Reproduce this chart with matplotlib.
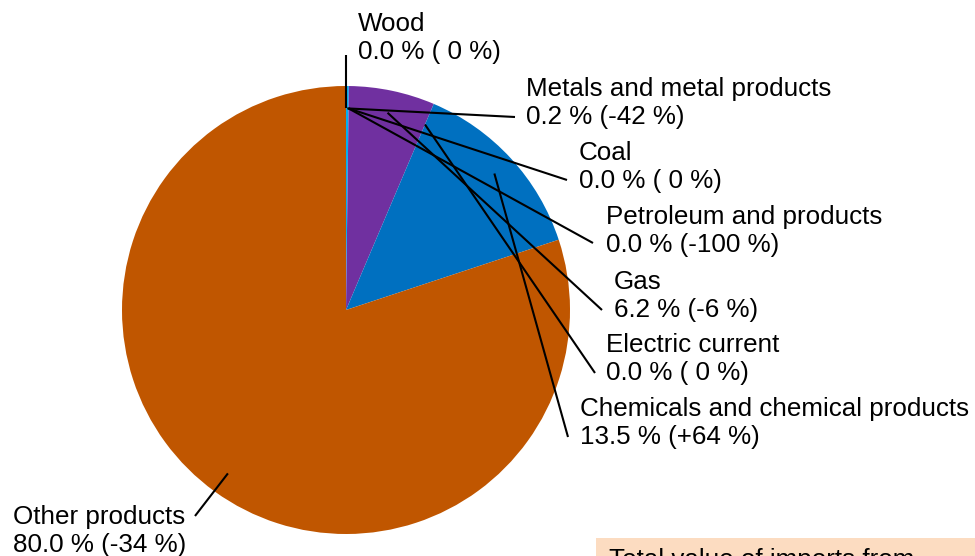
import numpy as np
import matplotlib.pyplot as plt
from matplotlib.patches import Rectangle

# Data (clockwise from 12 o'clock)
categories = ['Wood', 'Metals and metal products', 'Coal', 'Petroleum and products',
              'Gas', 'Electric current', 'Chemicals and chemical products', 'Other products']
shares = [0.0, 0.2, 0.0, 0.0, 6.2, 0.0, 13.5, 80.0]
changes = ['( 0 %)', '(-42 %)', '( 0 %)', '(-100 %)', '(-6 %)', '( 0 %)', '(+64 %)', '(-34 %)']
colors = ['#8B5A2B', '#00B0F0', '#404040', '#7F7F7F', '#7030A0', '#FFC000', '#0070C0', '#C05600']

# Layout in pixels (measured from the top of the picture)
W, H = 975, 556
cx, cy, rad = 346, 310, 224
label_pos = [(358, 12), (526, 77), (579, 141), (606, 205), (614, 270), (606, 333), (580, 397), (13, 505)]
line_end = [(346, 55), (515, 117), (567, 180), (593, 243), (602, 310), (595, 373), (568, 437), (195, 516)]

plt.rcParams['font.family'] = ['Liberation Sans', 'DejaVu Sans']

fig = plt.figure(figsize=(W / 100, H / 100), dpi=100)
ax = fig.add_axes([0, 0, 1, 1])
wedges, _ = ax.pie(shares, colors=colors, startangle=90, counterclock=False,
                   center=(cx, H - cy), radius=rad, wedgeprops=dict(linewidth=0))
ax.set_xlim(0, W)
ax.set_ylim(0, H)
ax.axis('off')

# Leader lines from 0.9 r at the middle of each slice to its label
for w, (ex, ey) in zip(wedges, line_end):
    mid = np.deg2rad((w.theta1 + w.theta2) / 2)
    sx = cx + 0.9 * rad * np.cos(mid)
    sy = (H - cy) + 0.9 * rad * np.sin(mid)
    ax.plot([sx, ex], [sy, H - ey], color='black', lw=1.5, solid_capstyle='butt')

for name, share, chg, (lx, ly) in zip(categories, shares, changes, label_pos):
    ax.text(lx, H - ly, f'{name}\n{share:.1f} % {chg}', ha='left', va='top',
            fontsize=18.7, color='black')

# Info box, cut off at the bottom right (as in the original)
ax.add_patch(Rectangle((596, 0), W - 596, H - 538, facecolor='#FCDCC1', edgecolor='none'))
ax.text(609, H - 548, 'Total value of imports from', ha='left', va='top', fontsize=18.7)

fig.savefig('out.png', dpi=100)
